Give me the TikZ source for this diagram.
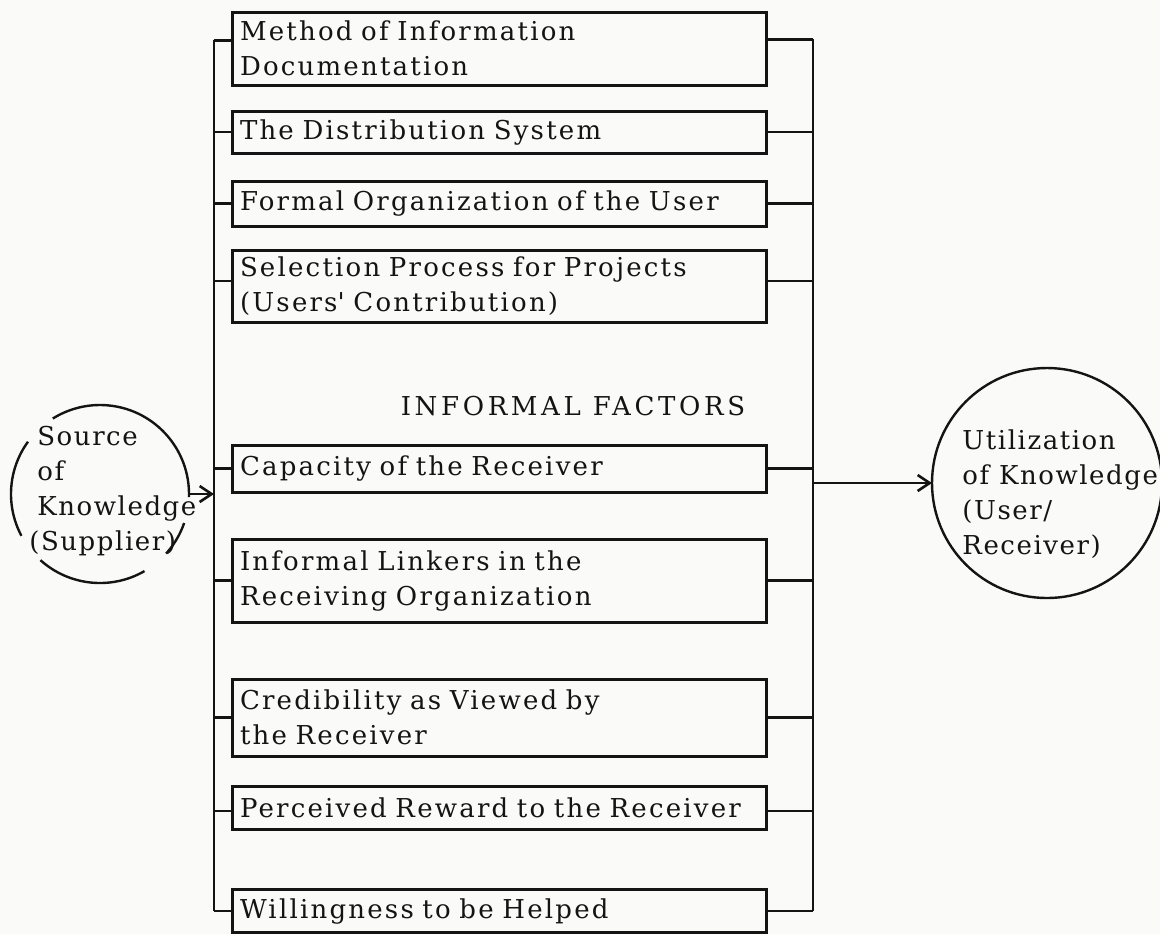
\documentclass[tikz,border=0pt]{standalone}
\usepackage{fontspec}
\setmainfont{DejaVu Serif}[LetterSpace=6]
\newfontfamily\boxfont{DejaVu Serif}[LetterSpace=8.5]
\newfontfamily\capsfont{DejaVu Serif}[LetterSpace=14]
\usetikzlibrary{arrows.meta}
\definecolor{paper}{RGB}{250,250,249}
\definecolor{ink}{RGB}{20,20,20}
\begin{document}
\begin{tikzpicture}[x=0.5pt,y=-0.5pt,
  txt/.style={font=\fontsize{13pt}{17.5pt}\selectfont, text=ink},
  factor/.style={draw=ink, line width=1.5pt, rectangle, txt, font=\boxfont\fontsize{13pt}{17.5pt}\selectfont,
    minimum height=#1, text width=259pt, inner xsep=4pt, inner ysep=0pt, outer sep=0pt, align=left},
  wire/.style={draw=ink, line width=1.4pt},
  ring/.style={draw=ink, line width=1.2pt},
  arr/.style={draw=ink, line width=1.3pt, -{Straight Barb[length=6pt,width=8pt]}}]
\fill[paper] (0,0) rectangle (1160,934);
\useasboundingbox (0,0) rectangle (1160,934);

% factor boxes
\node[factor=36.5pt] (b1) at (499,48.5) {Method of Information\\Documentation};
\node[factor=21pt] (b2) at (499,132) {The Distribution System};
\node[factor=22.5pt] (b3) at (499,203.5) {Formal Organization of the User};
\node[factor=36pt] (b4) at (499,286) {Selection Process for Projects\\(Users\textquotesingle{} Contribution)};
\node[txt, font=\capsfont\fontsize{13pt}{17.5pt}\selectfont, inner sep=0pt] (inf) at (573,406) {INFORMAL FACTORS};
\node[factor=23.5pt] (b5) at (499,468.5) {Capacity of the Receiver};
\node[factor=41.5pt] (b6) at (499,580.5) {Informal Linkers in the\\Receiving Organization};
\node[factor=38.5pt] (b7) at (499,717.5) {Credibility as Viewed by\\the Receiver};
\node[factor=21.5pt] (b8) at (499,808) {Perceived Reward to the Receiver};
\node[factor=21.5pt] (b9) at (499,911) {Willingness to be Helped};

% buses
\coordinate (LT) at (214,40);
\coordinate (LB) at (214,911);
\coordinate (RT) at (813,39);
\coordinate (RB) at (813,911);
\draw[wire] (LT) -- (LB);
\draw[wire] (RT) -- (RB);

% connectors
\draw[wire] ([yshift=4pt]b1.west) -- ([yshift=4pt]b1.west -| LT);
\draw[wire] ([yshift=4.5pt]b1.east) -- ([yshift=4.5pt]b1.east -| RT);
\foreach \b in {b2,b3,b5,b6,b7,b9}{
  \draw[wire] (\b.west) -- (\b.west -| LT);
  \draw[wire] (\b.east) -- (\b.east -| RT);
}
\draw[wire] ([yshift=2.5pt]b4.west) -- ([yshift=2.5pt]b4.west -| LT);
\draw[wire] ([yshift=2.5pt]b4.east) -- ([yshift=2.5pt]b4.east -| RT);
\draw[wire] ([yshift=-1.5pt]b8.west) -- ([yshift=-1.5pt]b8.west -| LT);
\draw[wire] ([yshift=-1.5pt]b8.east) -- ([yshift=-1.5pt]b8.east -| RT);

% source circle (broken outline)
\node[circle, minimum size=89pt, inner sep=0pt, outer sep=0pt] (src) at (100,494) {};
\draw[ring] (src.-2) arc[start angle=-2, end angle=122, radius=44.5pt];
\draw[ring] (src.144) arc[start angle=144, end angle=208, radius=44.5pt];
\draw[ring] (src.228) arc[start angle=228, end angle=300, radius=44.5pt];
\draw[ring] (src.318) arc[start angle=318, end angle=341, radius=44.5pt];
\node[txt, anchor=west, align=left, inner sep=0pt] (srctxt) at (37,491) {Source\\of\\Knowledge\\\hspace*{-4pt}(Supplier)};

% user circle
\node[circle, ring, minimum size=115pt, inner sep=0pt, outer sep=0pt] (user) at (1047,483) {};
\node[txt, anchor=west, align=left, inner sep=0pt] (usertxt) at (962,494) {Utilization\\of Knowledge\\(User/\\Receiver)};

% arrows
\draw[arr] (src.east) -- (src.east -| LT);
\draw[arr] (user.west -| RT) -- (user.west);
\end{tikzpicture}
\end{document}
